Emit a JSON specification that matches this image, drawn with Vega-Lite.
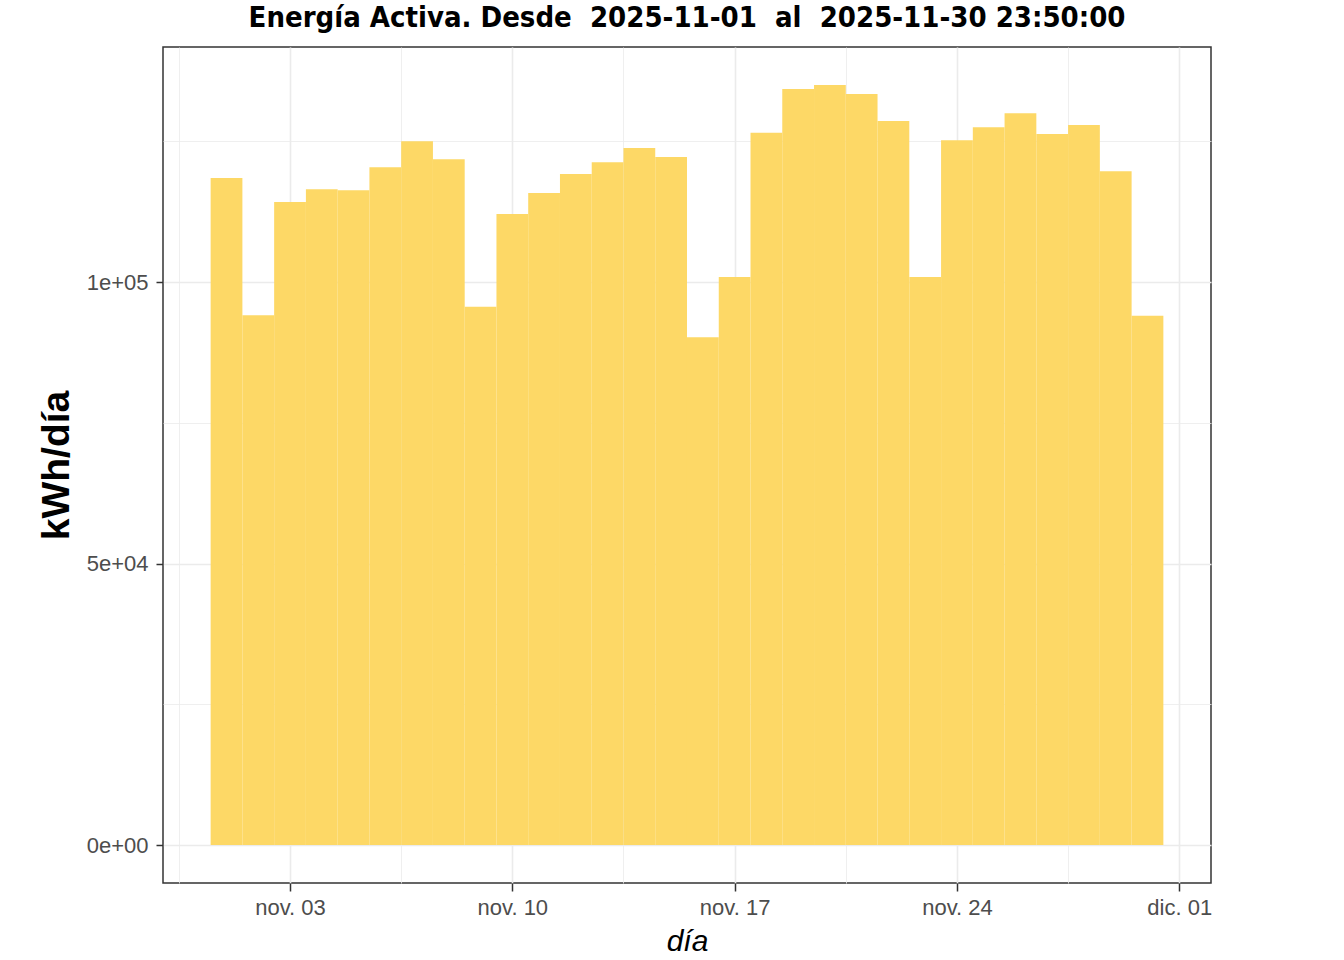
{
  "$schema": "https://vega.github.io/schema/vega-lite/v6.json",
  "autosize": {"type": "none"},
  "width": 1048,
  "height": 836,
  "padding": {"left": 163, "top": 47, "right": 133, "bottom": 77},
  "background": "white",
  "config": {
    "view": {"stroke": "#333333", "strokeWidth": 1.5},
    "font": "Liberation Sans"
  },
  "title": {
    "text": "Energía Activa. Desde \u00a02025-11-01 \u00a0al \u00a02025-11-30 23:50:00",
    "font": "DejaVu Sans Condensed",
    "fontSize": 29,
    "fontWeight": "bold",
    "color": "black",
    "anchor": "middle",
    "frame": "group",
    "baseline": "alphabetic",
    "offset": -9
  },
  "data": {
    "values": [
      {"dia": "2025-11-01", "kwh": 118500},
      {"dia": "2025-11-02", "kwh": 94100},
      {"dia": "2025-11-03", "kwh": 114200},
      {"dia": "2025-11-04", "kwh": 116500},
      {"dia": "2025-11-05", "kwh": 116300},
      {"dia": "2025-11-06", "kwh": 120400},
      {"dia": "2025-11-07", "kwh": 125000},
      {"dia": "2025-11-08", "kwh": 121800},
      {"dia": "2025-11-09", "kwh": 95600},
      {"dia": "2025-11-10", "kwh": 112100},
      {"dia": "2025-11-11", "kwh": 115800},
      {"dia": "2025-11-12", "kwh": 119200},
      {"dia": "2025-11-13", "kwh": 121300},
      {"dia": "2025-11-14", "kwh": 123800},
      {"dia": "2025-11-15", "kwh": 122200},
      {"dia": "2025-11-16", "kwh": 90200},
      {"dia": "2025-11-17", "kwh": 100900},
      {"dia": "2025-11-18", "kwh": 126500},
      {"dia": "2025-11-19", "kwh": 134300},
      {"dia": "2025-11-20", "kwh": 135000},
      {"dia": "2025-11-21", "kwh": 133400},
      {"dia": "2025-11-22", "kwh": 128600},
      {"dia": "2025-11-23", "kwh": 100900},
      {"dia": "2025-11-24", "kwh": 125200},
      {"dia": "2025-11-25", "kwh": 127500},
      {"dia": "2025-11-26", "kwh": 130000},
      {"dia": "2025-11-27", "kwh": 126300},
      {"dia": "2025-11-28", "kwh": 127900},
      {"dia": "2025-11-29", "kwh": 119700},
      {"dia": "2025-11-30", "kwh": 94000}
    ]
  },
  "mark": {"type": "bar", "color": "#FDD866", "opacity": 1, "width": 31.76, "strokeWidth": 0},
  "encoding": {
    "x": {
      "field": "dia",
      "type": "temporal",
      "scale": {
        "type": "utc",
        "domain": [1761782400000, 1764633600000],
        "nice": false,
        "padding": 0
      },
      "axis": {
        "title": "día",
        "titleFont": "Liberation Sans",
        "titleFontSize": 30,
        "titleFontStyle": "italic",
        "titleFontWeight": "normal",
        "titleColor": "black",
        "titlePadding": 8,
        "values": [
          {"year": 2025, "month": 10, "date": 30, "hours": 12, "utc": true},
          {"year": 2025, "month": 11, "date": 3, "utc": true},
          {"year": 2025, "month": 11, "date": 6, "hours": 12, "utc": true},
          {"year": 2025, "month": 11, "date": 10, "utc": true},
          {"year": 2025, "month": 11, "date": 13, "hours": 12, "utc": true},
          {"year": 2025, "month": 11, "date": 17, "utc": true},
          {"year": 2025, "month": 11, "date": 20, "hours": 12, "utc": true},
          {"year": 2025, "month": 11, "date": 24, "utc": true},
          {"year": 2025, "month": 11, "date": 27, "hours": 12, "utc": true},
          {"year": 2025, "month": 12, "date": 1, "utc": true}
        ],
        "labelExpr": "utchours(datum.value) == 12 ? '' : (utcmonth(datum.value) == 10 ? 'nov. ' : 'dic. ') + utcFormat(datum.value, '%d')",
        "labelFontSize": 22,
        "labelColor": "#4D4D4D",
        "labelPadding": 6,
        "labelFlush": false,
        "labelOverlap": false,
        "domain": false,
        "grid": true,
        "gridColor": "#EBEBEB",
        "gridWidth": {"condition": {"test": "utchours(datum.value) == 12", "value": 0.8}, "value": 1.6},
        "ticks": true,
        "tickSize": 8,
        "tickWidth": 1.5,
        "tickColor": "#333333",
        "tickOpacity": {"condition": {"test": "utchours(datum.value) == 12", "value": 0}, "value": 1}
      }
    },
    "y": {
      "field": "kwh",
      "type": "quantitative",
      "scale": {"domain": [-6750, 141750], "nice": false, "zero": false, "padding": 0},
      "axis": {
        "title": "kWh/día",
        "titleFont": "Liberation Sans",
        "titleFontSize": 39,
        "titleFontWeight": "bold",
        "titleColor": "black",
        "titlePadding": 10,
        "values": [0, 25000, 50000, 75000, 100000, 125000],
        "labelExpr": "datum.value == 0 ? '0e+00' : datum.value == 50000 ? '5e+04' : datum.value == 100000 ? '1e+05' : ''",
        "labelFontSize": 22,
        "labelColor": "#4D4D4D",
        "labelPadding": 8,
        "domain": false,
        "grid": true,
        "gridColor": "#EBEBEB",
        "gridWidth": {"condition": {"test": "datum.value % 50000 != 0", "value": 0.8}, "value": 1.6},
        "ticks": true,
        "tickSize": 7,
        "tickWidth": 1.5,
        "tickColor": "#333333",
        "tickOpacity": {"condition": {"test": "datum.value % 50000 != 0", "value": 0}, "value": 1}
      }
    }
  }
}
